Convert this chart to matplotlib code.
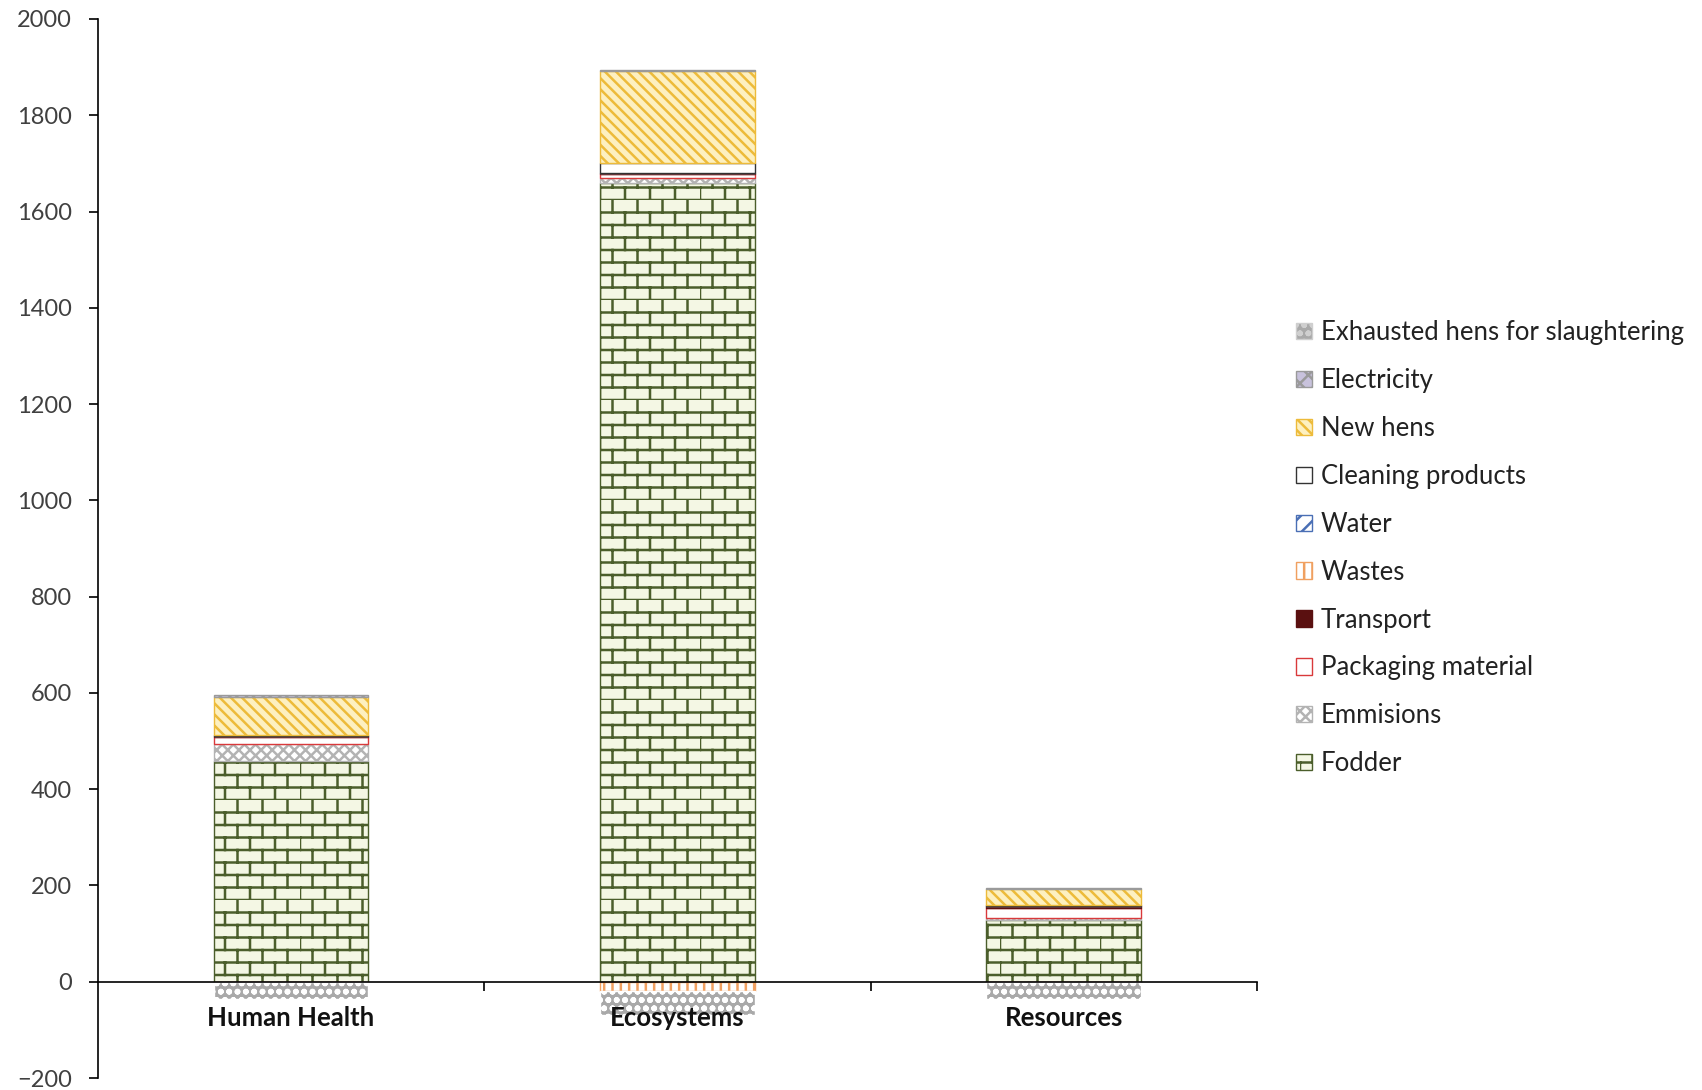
import numpy as np
import matplotlib.pyplot as plt
from matplotlib.hatch import HatchPatternBase, _hatch_types
from matplotlib.path import Path
from matplotlib.patches import Patch

### brick pattern for fodder (not built into matplotlib)
class BrickHatch(HatchPatternBase):
    rows = 8
    cols = 4

    def __init__(self, hatch, density):
        self.num_vertices = (self.rows + self.rows * self.cols) * 2 if 'b' in hatch else 0

    def set_vertices_and_codes(self, vertices, codes):
        segs = []
        for k in range(self.rows):
            y0 = k / self.rows
            segs.append(((0, y0), (1, y0)))
            off = 0.5 / self.cols if k % 2 else 0
            for j in range(self.cols):
                x = j / self.cols + off
                segs.append(((x, y0), (x, y0 + 1 / self.rows)))
        vertices[:] = np.array(segs).reshape(-1, 2)
        codes[0::2] = Path.MOVETO
        codes[1::2] = Path.LINETO

_hatch_types.append(BrickHatch)

plt.rcParams['font.family'] = ['Lato', 'DejaVu Sans']
plt.rcParams['hatch.linewidth'] = 1.8

### data
categories = ['Human Health', 'Ecosystems', 'Resources']
fodder = [458, 1660, 129]
emmisions = [35, 10, 4]
packaging = [15, 8, 20]
transport = [2, 2, 5]
wastes = [0, 0, 0]
water = [0, 0, 0]
cleaning = [2, 21, 2]
new_hens = [80, 190, 32]
electricity = [3, 4, 3]
wastes_neg = [0, -20, 0]
exhausted = [-36, -50, -35]

pos_series = [
    ('Fodder', fodder, '#f4f7e4', '#4b5e2b', 'b'),
    ('Emmisions', emmisions, 'white', '#b3b3b3', 'xxx'),
    ('Packaging material', packaging, 'white', '#d9393b', ''),
    ('Transport', transport, '#5a1010', '#5a1010', ''),
    ('Wastes', wastes, 'white', '#f0a060', '||'),
    ('Water', water, 'white', '#4a6fb5', '//'),
    ('Cleaning products', cleaning, 'white', '#333333', ''),
    ('New hens', new_hens, '#fdf0c0', '#edbb3a', '\\\\\\'),
    ('Electricity', electricity, '#c8c2dc', '#9a9a9a', 'xx'),
]

x = np.arange(len(categories))
w = 0.4

fig = plt.figure(figsize=(17.02, 10.9), dpi=100)
ax = fig.add_axes([0.0575, 0.011, 0.681, 0.9716])

handles = {}
bottom = np.zeros(3)
for name, vals, fc, ec, hatch in pos_series:
    b = ax.bar(x, vals, w, bottom=bottom, color=fc, edgecolor=ec, hatch=hatch, linewidth=1)
    handles[name] = b
    bottom += np.array(vals)

nbottom = np.zeros(3)
ax.bar(x, wastes_neg, w, bottom=nbottom, color='white', edgecolor='#f0a060', hatch='||', linewidth=1)
nbottom += np.array(wastes_neg)
ax.bar(x, exhausted, w, bottom=nbottom, color='#a9a9a9', edgecolor='white', hatch='oo', linewidth=1)
handles['Exhausted hens for slaughtering'] = Patch(facecolor='#a9a9a9', edgecolor='#cfcfcf', hatch='oo')

ax.set_xlim(-0.5, 2.5)
ax.set_ylim(-200, 2000)
ax.set_yticks(np.arange(-200, 2001, 200))
ax.tick_params(axis='y', labelsize=17, labelcolor='#404040', length=6.5, width=1.2, direction='out', pad=12)
ax.spines['left'].set_linewidth(1.2)
ax.spines['bottom'].set_position(('data', 0))
ax.spines['bottom'].set_linewidth(1.2)
ax.spines['top'].set_visible(False)
ax.spines['right'].set_visible(False)
ax.set_xticks([0.5, 1.5, 2.5])
ax.set_xticklabels([])
ax.tick_params(axis='x', length=6.5, width=1.2, direction='out')

for xi, c in zip(x, categories):
    ax.text(xi, -75, c, ha='center', va='center', fontsize=18.5, fontweight='bold', color='#111111')

order = ['Exhausted hens for slaughtering', 'Electricity', 'New hens', 'Cleaning products', 'Water',
         'Wastes', 'Transport', 'Packaging material', 'Emmisions', 'Fodder']
fig.legend([handles[k] for k in order], order, loc='center left', bbox_to_anchor=(0.754, 0.497),
           frameon=False, fontsize=18.5, handlelength=0.6, handleheight=0.6, handletextpad=0.35,
           labelspacing=0.89, borderpad=0, labelcolor='#222222')

fig.savefig('out.png', dpi=100)
